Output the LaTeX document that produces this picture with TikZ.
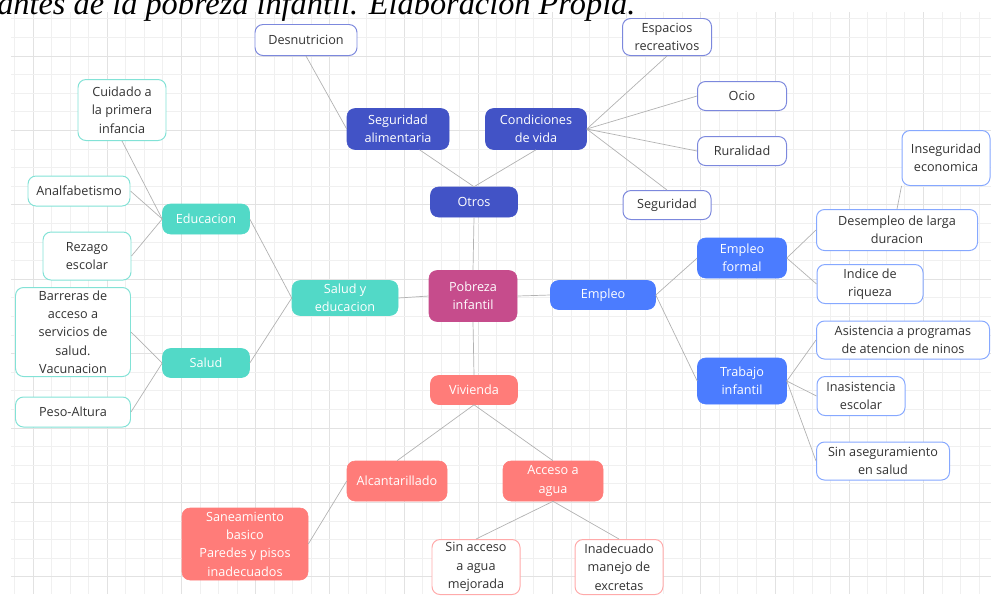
\documentclass[tikz,border=0pt]{standalone}
\usepackage{fontspec}
\setmainfont{Open Sans}
\newfontfamily\captionfont{Liberation Serif}

\begin{document}
\begin{tikzpicture}[x=0.025cm, y=-0.025cm,
    wh/.style 2 args={minimum width=#1*0.025cm, minimum height=#2*0.025cm},
    box/.style={rounded corners=0.2cm, align=center, inner xsep=2pt, inner ysep=0.5pt,
        font=\fontsize{9}{13}\selectfont},
    hub/.style={box, fill=#1, draw=#1, text=white},
    leaf/.style={box, fill=white, draw=#1, line width=0.7pt, text=textgray},
    link/.style={draw=linkgray, line width=0.5pt}]
    % Define colours
    \definecolor{textgray}{RGB}{51,51,51}
    \definecolor{linkgray}{RGB}{178,178,178}
    \definecolor{gridminor}{RGB}{240,240,240}
    \definecolor{gridmajor}{RGB}{226,226,226}
    \definecolor{teal}{RGB}{82,217,199}
    \definecolor{tealline}{RGB}{130,226,214}
    \definecolor{navy}{RGB}{66,83,198}
    \definecolor{navyline}{RGB}{124,136,221}
    \definecolor{blue}{RGB}{75,124,255}
    \definecolor{blueline}{RGB}{134,168,255}
    \definecolor{plum}{RGB}{198,76,140}
    \definecolor{salmon}{RGB}{255,124,121}
    \definecolor{salmonline}{RGB}{255,170,170}

    \useasboundingbox (0,0) rectangle (991,595);

    % Grid paper
    \begin{scope}
        \clip (11,12) rectangle (991,593);
        \foreach \i in {-2,...,52} {
            \pgfmathtruncatemacro\m{mod(\i+80,4)}
            \ifnum\m=0
                \draw[gridmajor, line width=0.6pt] ({33+18.55*\i},0) -- ({33+18.55*\i},595);
            \else
                \draw[gridminor, line width=0.6pt] ({33+18.55*\i},0) -- ({33+18.55*\i},595);
            \fi
        }
        \foreach \i in {-3,...,30} {
            \pgfmathtruncatemacro\m{mod(\i+80,4)}
            \ifnum\m=0
                \draw[gridmajor, line width=0.6pt] (0,{56+18.6*\i}) -- (991,{56+18.6*\i});
            \else
                \draw[gridminor, line width=0.6pt] (0,{56+18.6*\i}) -- (991,{56+18.6*\i});
            \fi
        }
    \end{scope}

    % Caption (cut at the top)
    \node[anchor=base west, inner sep=0pt, font=\captionfont\itshape\fontsize{23}{23}\selectfont] (caption) at (-3,14)
        {antes de la pobreza infantil. Elaboración Propia.};

    % 1. Centre
    \node[hub=plum, wh={88}{51}] (pob) at (473,296) {Pobreza\\infantil};

    % 2. Salud y educacion
    \node[hub=teal, wh={106}{35}] (saled) at (345,298) {Salud y\\educacion};
    \node[hub=teal, wh={87}{30}] (edu) at (206,219) {Educacion};
    \node[hub=teal, wh={87}{29}] (sal) at (206,363) {Salud};
    \node[leaf=tealline, wh={88}{61}] (cuid) at (122,110) {Cuidado a\\la primera\\infancia};
    \node[leaf=tealline, wh={102}{30}] (analf) at (79,191) {Analfabetismo};
    \node[leaf=tealline, wh={88}{48}] (rez) at (87,256) {Rezago\\escolar};
    \node[leaf=tealline, wh={115}{89}] (barr) at (73,332) {Barreras de\\acceso a\\servicios de\\salud.\\Vacunacion};
    \node[leaf=tealline, wh={115}{30}] (peso) at (73,412) {Peso-Altura};

    % 3. Otros
    \node[hub=navy, wh={87}{30}] (otros) at (474,202) {Otros};
    \node[hub=navy, wh={102}{41}] (segal) at (398,129) {Seguridad\\alimentaria};
    \node[hub=navy, wh={101}{41}] (cond) at (536,129) {Condiciones\\de vida};
    \node[leaf=navyline, wh={102}{31}] (desn) at (306,40) {Desnutricion};
    \node[leaf=navyline, wh={89}{37}] (esp) at (667,37) {Espacios\\recreativos};
    \node[leaf=navyline, wh={89}{29}] (ocio) at (742,96) {Ocio};
    \node[leaf=navyline, wh={89}{29}] (rur) at (742,151) {Ruralidad};
    \node[leaf=navyline, wh={88}{29}] (seg) at (667,205) {Seguridad};

    % 4. Empleo
    \node[hub=blue, wh={105}{29}] (emp) at (603,295) {Empleo};
    \node[hub=blue, wh={89}{40}] (empf) at (742,258) {Empleo\\formal};
    \node[hub=blue, wh={89}{46}] (trab) at (742,381) {Trabajo\\infantil};
    \node[leaf=blueline, wh={88}{55}] (insec) at (946,158) {Inseguridad\\economica};
    \node[leaf=blueline, wh={161}{41}] (desem) at (897,230) {Desempleo de larga\\duracion};
    \node[leaf=blueline, wh={106}{39}] (ind) at (870,284) {Indice de\\riqueza};
    \node[leaf=blueline, wh={173}{38}] (asis) at (903,340) {Asistencia a programas\\de atencion de ninos};
    \node[leaf=blueline, wh={88}{39}] (inas) at (861,396) {Inasistencia\\escolar};
    \node[leaf=blueline, wh={133}{38}] (sinas) at (883,461) {Sin aseguramiento\\en salud};

    % 5. Vivienda
    \node[hub=salmon, wh={87}{29}] (viv) at (474,390) {Vivienda};
    \node[hub=salmon, wh={100}{40}] (alc) at (397,481) {Alcantarillado};
    \node[hub=salmon, wh={100}{40}] (acc) at (553,481) {Acceso a\\agua};
    \node[hub=salmon, wh={126}{72}] (san) at (245,544) {Saneamiento\\basico\\Paredes y pisos\\inadecuados};
    \node[leaf=salmonline, wh={88}{55}] (sinac) at (476,567) {Sin acceso\\a agua\\mejorada};
    \node[leaf=salmonline, wh={88}{55}] (inad) at (619,567) {Inadecuado\\manejo de\\excretas};

    % Branches
    \foreach \a/\b in {pob.west/saled.east, pob.east/emp.west, pob.north/otros.south, pob.south/viv.north,
        saled.west/edu.east, saled.west/sal.east, edu.west/cuid.south, edu.west/analf.east,
        edu.west/rez.east, sal.west/barr.east, sal.west/peso.east,
        otros.north/segal.-44, otros.north/cond.south, segal.west/desn.south, cond.east/esp.south,
        cond.east/ocio.west, cond.east/rur.west, cond.east/seg.north,
        emp.east/empf.west, emp.east/trab.west, empf.east/desem.west, empf.east/ind.west,
        desem.north/insec.south west, trab.east/asis.west, trab.east/inas.west, trab.east/sinas.west,
        viv.south/alc.north, viv.south/acc.north, alc.west/san.east, acc.south/sinac.north,
        acc.south/inad.north} {
        \draw[link] (\a) -- (\b);
    }
\end{tikzpicture}
\end{document}
